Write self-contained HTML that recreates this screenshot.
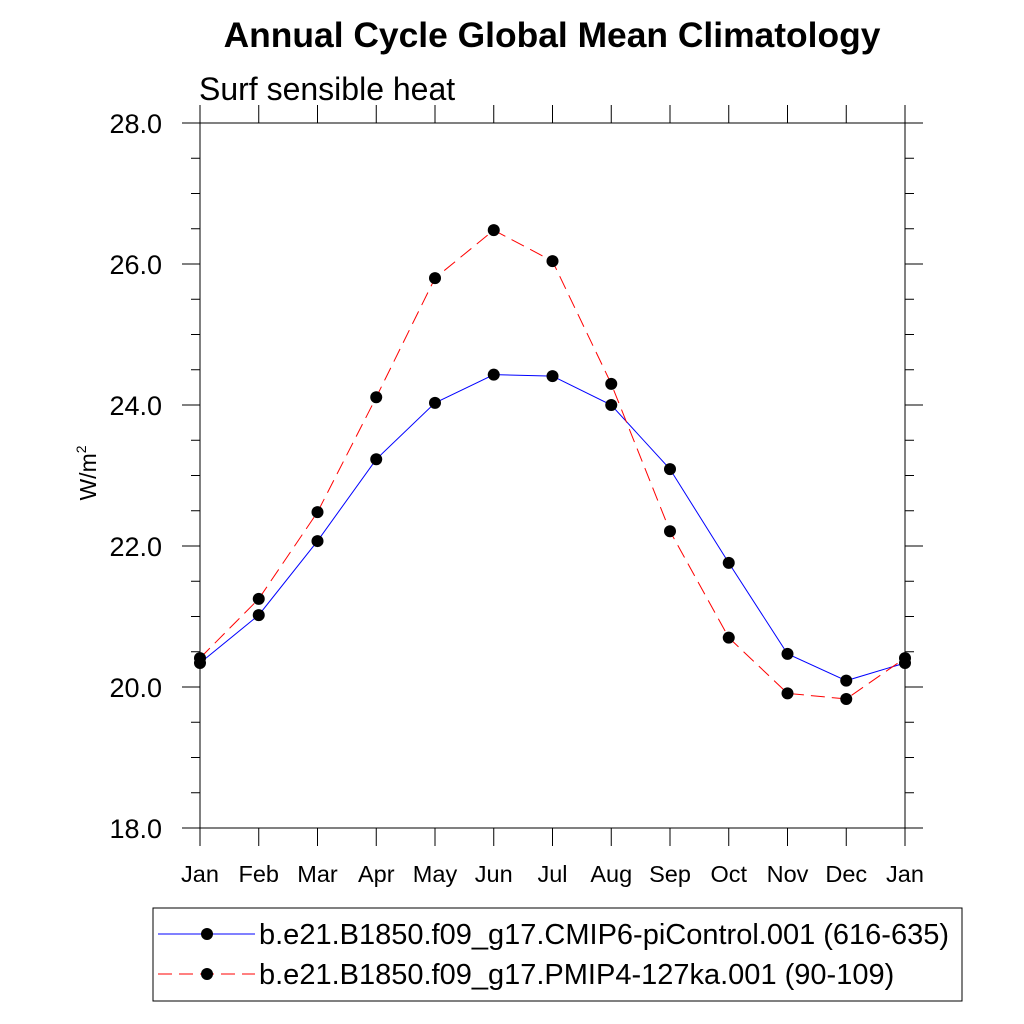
<!DOCTYPE html>
<html><head><meta charset="utf-8"><style>body{margin:0;background:#fff}svg{display:block;font-family:"Liberation Sans",sans-serif}</style></head>
<body>
<svg id="chart" width="1024" height="1024" viewBox="0 0 1024 1024">
<text x="552" y="47" font-size="35.4" font-weight="bold" text-anchor="middle">Annual Cycle Global Mean Climatology</text>
<text x="199" y="100" font-size="32">Surf sensible heat</text>
<text transform="translate(96,473) rotate(-90)" font-size="23" text-anchor="middle">W/m<tspan font-size="14" dy="-10">2</tspan></text>
<g id="axes"></g>
<g id="series"></g>
<rect x="153" y="908" width="809" height="93" fill="none" stroke="#000" stroke-width="1"/>
<g>
<line x1="158" y1="934" x2="255" y2="934" stroke="#00f" stroke-width="1"/>
<circle cx="207" cy="934" r="6"/>
<text x="259" y="944" font-size="29">b.e21.B1850.f09_g17.CMIP6-piControl.001 (616-635)</text>
</g>
<g>
<line x1="158" y1="974" x2="255" y2="974" stroke="#f00" stroke-width="1" stroke-dasharray="14,7"/>
<circle cx="207" cy="974" r="6"/>
<text x="259" y="984" font-size="29">b.e21.B1850.f09_g17.PMIP4-127ka.001 (90-109)</text>
</g>
</svg>
<script>
const months = ["Jan","Feb","Mar","Apr","May","Jun","Jul","Aug","Sep","Oct","Nov","Dec","Jan"];
const piControl = [20.34,21.02,22.07,23.23,24.03,24.43,24.41,24.00,23.09,21.76,20.47,20.09,20.34];
const ka127 = [20.41,21.25,22.48,24.11,25.80,26.48,26.04,24.30,22.21,20.70,19.91,19.83,20.41];
const yTicks = [18,20,22,24,26,28];
const yTickLabels = ["18.0","20.0","22.0","24.0","26.0","28.0"];
const X0=200,X1=905,Y0=828,Y1=123,YMIN=18,YMAX=28;
const NS="http://www.w3.org/2000/svg";
function xs(i){return X0+(X1-X0)*i/(months.length-1);}
function ys(v){return Y0-(v-YMIN)/(YMAX-YMIN)*(Y0-Y1);}
function mk(tag,attrs,parent){const e=document.createElementNS(NS,tag);for(const k in attrs)e.setAttribute(k,attrs[k]);parent.appendChild(e);return e;}
const ax=document.getElementById('axes');
const frame=mk('rect',{x:X0,y:Y1,width:X1-X0,height:Y0-Y1,fill:'none',stroke:'#000','stroke-width':1},ax);


for(let v=YMIN;v<=YMAX+1e-6;v+=0.5){
  const major=Math.abs(v-Math.round(v/2)*2)<1e-6;const L=major?18:9;const y=ys(v);
  const t1=mk('line',{x1:X0-L,y1:y,x2:X0,y2:y,stroke:'#000'},ax);
  
  
  const t2=mk('line',{x1:X1,y1:y,x2:X1+L,y2:y,stroke:'#000'},ax);
  
  
}
yTicks.forEach((v,i)=>{
  const t=mk('text',{x:X0-38,y:ys(v)+10,'font-size':27,'text-anchor':'end'},ax);t.textContent=yTickLabels[i];
  
  
});
months.forEach((m,i)=>{
  const x=xs(i);
  const a=mk('line',{x1:x,y1:Y0,x2:x,y2:Y0+18,stroke:'#000'},ax);
  
  
  const b=mk('line',{x1:x,y1:Y1-18,x2:x,y2:Y1,stroke:'#000'},ax);
  
  
  const t=mk('text',{x:x,y:882,'font-size':23.5,'text-anchor':'middle'},ax);t.textContent=m;
  
  
});
const sg=document.getElementById('series');
function draw(vals,color,dash,name){
  const p=mk('polyline',{points:vals.map((v,i)=>xs(i)+','+ys(v)).join(' '),fill:'none',stroke:color,'stroke-width':1},sg);
  if(dash)p.setAttribute('stroke-dasharray',dash);
  
  
  vals.forEach((v,i)=>{const c=mk('circle',{cx:xs(i),cy:ys(v),r:6,fill:'#000'},sg);
    
    });
}
draw(piControl,'#00f',null,'picontrol');
draw(ka127,'#f00','14,7','127ka');
</script>
</body></html>
